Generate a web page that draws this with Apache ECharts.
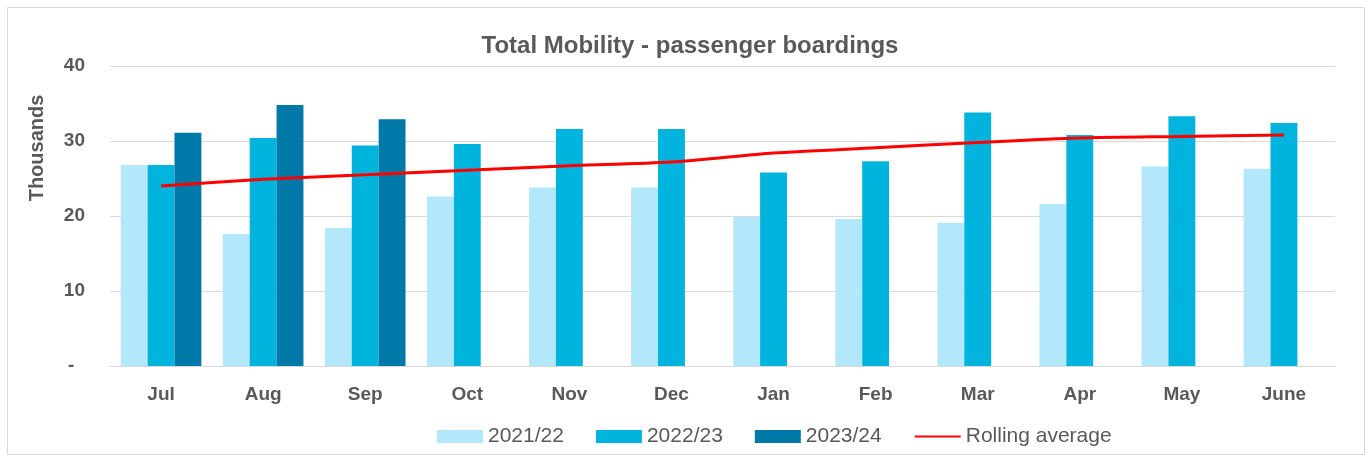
<!DOCTYPE html>
<html>
<head>
<meta charset="utf-8">
<script src="https://cdn.jsdelivr.net/npm/echarts@6/dist/echarts.min.js"></script>
<style>
  html, body { margin: 0; padding: 0; background: #fff; }
  #chart1 { width: 1370px; height: 460px; }
</style>
</head>
<body>
<div id="chart1"></div>
<script>
// data (thousands)
var months = ['Jul', 'Aug', 'Sep', 'Oct', 'Nov', 'Dec', 'Jan', 'Feb', 'Mar', 'Apr', 'May', 'June'];
var fy2122 = [26.8, 17.6, 18.4, 22.6, 23.8, 23.8, 19.9, 19.6, 19.1, 21.6, 26.6, 26.3];
var fy2223 = [26.8, 30.4, 29.4, 29.6, 31.6, 31.6, 25.8, 27.3, 33.8, 30.8, 33.3, 32.4];
var fy2324 = [31.1, 34.8, 32.9, null, null, null, null, null, null, null, null, null];
var rolling = [24.0, 24.9, 25.5, 26.1, 26.7, 27.2, 28.4, 29.1, 29.8, 30.4, 30.6, 30.8];
var yTicks = [0, 10, 20, 30, 40];

var font = '"Liberation Sans", Arial, sans-serif';
var grey = '#595959';

var chartDom = document.getElementById('chart1');
var myChart = echarts.init(chartDom);
var option;

option = {
    backgroundColor: '#fff',
    textStyle: {fontFamily: font},
    title: {
        text: 'Total Mobility - passenger boardings',
        left: 685,
        textAlign: 'center',
        top: 29,
        textStyle: {fontFamily: font, fontSize: 24, fontWeight: 'bold', color: grey}
    },
    graphic: [
        {
            type: 'rect',
            shape: {x: 7.5, y: 7.5, width: 1357, height: 447},
            style: {fill: 'none', stroke: '#d9d9d9', lineWidth: 1},
            silent: true
        },
        {
            type: 'text',
            x: 37,
            y: 148,
            rotation: Math.PI / 2,
            style: {
                text: 'Thousands',
                font: 'bold 20px ' + font,
                fill: grey,
                align: 'center',
                verticalAlign: 'middle'
            }
        }
    ],
    legend: {
        left: 432,
        top: 421,
        itemWidth: 46,
        itemHeight: 13,
        itemGap: 32,
        textStyle: {fontFamily: font, fontSize: 21, color: grey},
        data: [
            {name: '2021/22', icon: 'rect'},
            {name: '2022/23', icon: 'rect'},
            {name: '2023/24', icon: 'rect'},
            {name: 'Rolling average', itemStyle: {opacity: 0}}
        ]
    },
    grid: {left: 110, right: 35, top: 66, bottom: 94},
    xAxis: {
        type: 'category',
        data: months,
        axisLine: {lineStyle: {color: '#d9d9d9', width: 1}},
        axisTick: {show: false},
        axisLabel: {fontFamily: font, fontSize: 19, fontWeight: 'bold', color: grey, margin: 19}
    },
    yAxis: {
        type: 'value',
        min: yTicks[0],
        max: yTicks[yTicks.length - 1],
        interval: 10,
        axisLine: {show: false},
        axisTick: {show: false},
        splitLine: {lineStyle: {color: '#d9d9d9', width: 1}},
        axisLabel: {
            fontFamily: font, fontSize: 19, fontWeight: 'bold', color: grey, margin: 25,
            formatter: function (v) { return v === 0 ? '-  ' : v; }
        }
    },
    series: [
        {
            name: '2021/22',
            type: 'bar',
            data: fy2122,
            barGap: '0%',
            barCategoryGap: '21%',
            itemStyle: {color: '#b3e7fb'}
        },
        {
            name: '2022/23',
            type: 'bar',
            data: fy2223,
            itemStyle: {color: '#00b4de'}
        },
        {
            name: '2023/24',
            type: 'bar',
            data: fy2324,
            itemStyle: {color: '#0079a8'}
        },
        {
            name: 'Rolling average',
            type: 'line',
            data: rolling,
            smooth: 0.25,
            showSymbol: false,
            symbol: 'none',
            itemStyle: {color: '#ff0000'},
            lineStyle: {color: '#ff0000', width: 3}
        }
    ]
};

option && myChart.setOption(option);
</script>
</body>
</html>
